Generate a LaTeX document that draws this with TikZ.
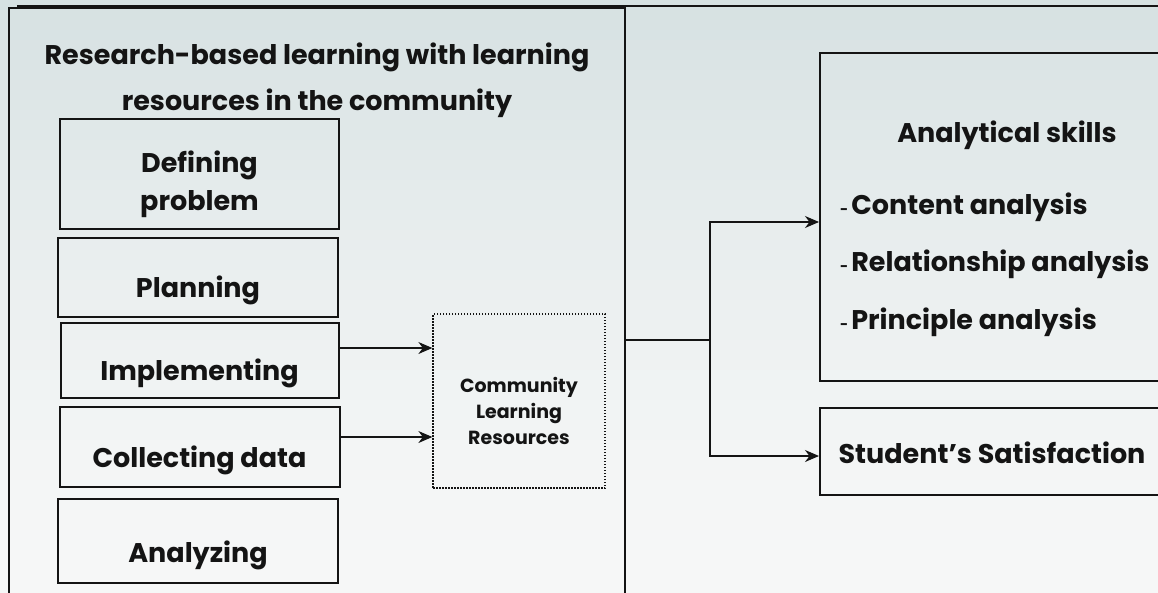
\documentclass[tikz,border=0pt]{standalone}
\usepackage{fontspec}
\setmainfont{Poppins}
\usetikzlibrary{arrows.meta}

\definecolor{ink}{HTML}{141414}
\definecolor{bgtop}{HTML}{D6E1E2}
\definecolor{bgbot}{HTML}{F6F7F7}

\tikzset{
  stepbox/.style={draw=ink, line width=1.8pt, inner sep=0pt},
  lbl/.style={font=\bfseries\fontsize{27}{34}\selectfont, text=ink, align=center, inner sep=0pt},
  clrtext/.style={font=\bfseries\fontsize{19}{26}\selectfont, text=ink, align=center, inner sep=0pt},
  conn/.style={draw=ink, line width=1.2pt},
  arr/.style={conn, -{Stealth[length=14pt, width=12pt, inset=4.5pt]}},
}
\newcommand{\itemdash}{{\fontsize{14}{14}\selectfont -}\hspace{3pt}}

\begin{document}
\begin{tikzpicture}[x=1pt, y=-1pt]
  \useasboundingbox (0,0) rectangle (1158,592);
  \clip (0,0) rectangle (1158,592);

  % soft vertical background gradient
  \foreach \i in {0,...,59} {
    \pgfmathsetmacro\p{100*(1-\i/59)^1.6}
    \fill[bgtop!\p!bgbot] (0,\i*10) rectangle (1158,\i*10+11);
  }

  % rule along the top edge
  \draw[ink, line width=2pt] (17,5.5) -- (1158,5.5);

  % left panel: research-based learning steps
  \node[draw=ink, line width=2pt, inner sep=0pt, anchor=north west,
        minimum width=616.5pt, minimum height=620pt] (frame) at (7.5,7) {};
  \node[lbl, font=\bfseries\fontsize{27}{46}\selectfont] (title) at (317,80)
    {Research-based learning with learning\\resources in the community};

  \node[stepbox, minimum width=279pt, minimum height=110pt] (defn) at (199.5,174) {};
  \node[lbl, font=\bfseries\fontsize{27}{38}\selectfont] (defn-t) at (199.5,184) {Defining\\problem};

  \node[stepbox, minimum width=280pt, minimum height=79pt] (plan) at (198,277.5) {};
  \node[lbl, anchor=base] (plan-t) at (198,297) {Planning};

  \node[stepbox, minimum width=278pt, minimum height=75pt] (impl) at (200,360.5) {};
  \node[lbl, anchor=base] (impl-t) at (199.5,380) {Implementing};

  \node[stepbox, minimum width=280pt, minimum height=80pt] (coll) at (200,447) {};
  \node[lbl, anchor=base] (coll-t) at (199.5,467) {Collecting data};

  \node[stepbox, minimum width=280pt, minimum height=84pt] (anal) at (198,541) {};
  \node[lbl, anchor=base] (anal-t) at (198,562) {Analyzing};

  % community learning resources
  \node[draw=ink, line width=1.3pt, dash pattern=on 1.5pt off 1.5pt,
        minimum width=172pt, minimum height=174pt, inner sep=0pt] (clr) at (519,401) {};
  \node[clrtext] (clr-t) at (519,411) {Community\\Learning\\Resources};

  \coordinate (impl-out) at ([yshift=12.5pt]impl.east);
  \coordinate (coll-out) at ([yshift=10pt]coll.east);
  \draw[arr] (impl-out) -- (clr.west |- impl-out);
  \draw[arr] (coll-out) -- (clr.west |- coll-out);

  % outcomes
  \node[stepbox, line width=2pt, anchor=north west, minimum width=380pt, minimum height=328pt] (ask) at (819,52) {};
  \node[lbl, anchor=base] (ask-t) at (1007,142) {Analytical skills};
  \node[lbl, anchor=base west] (ask-a) at (840,214) {\itemdash Content analysis};
  \node[lbl, anchor=base west] (ask-b) at (840,271) {\itemdash Relationship analysis};
  \node[lbl, anchor=base west] (ask-c) at (840,329) {\itemdash Principle analysis};

  \node[stepbox, line width=2pt, anchor=north west, minimum width=380pt, minimum height=87pt] (sat) at (819,407) {};
  \node[lbl, anchor=base] (sat-t) at (992,463) {Student’s Satisfaction};

  \coordinate (split) at (710,340);
  \draw[conn] (frame.east |- split) -- (split);
  \draw[arr] (split) |- ([yshift=-5pt]ask.west);
  \draw[arr] (split) |- ([yshift=-4.5pt]sat.west);
\end{tikzpicture}
\end{document}
